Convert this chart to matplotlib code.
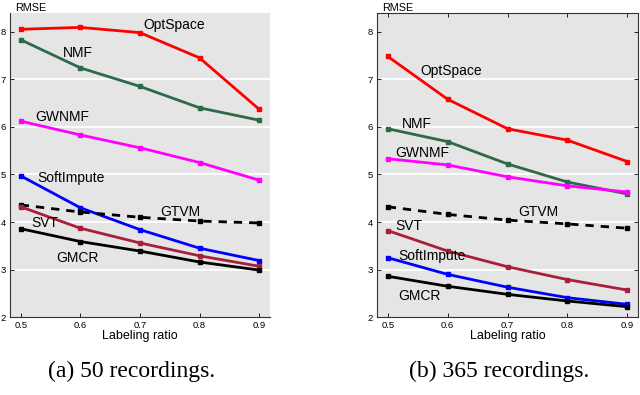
"""
RMSE vs labeling ratio for matrix completion methods, two recording sets.
"""
import matplotlib
matplotlib.use("Agg")
import matplotlib.pyplot as plt

plt.rcParams["font.family"] = ["Liberation Sans", "DejaVu Sans"]

RATIO = [0.5, 0.6, 0.7, 0.8, 0.9]
METHODS = ["OptSpace", "NMF", "GWNMF", "SoftImpute", "GTVM", "SVT", "GMCR"]

# (a) 50 recordings
RMSE_50 = {
    "OptSpace":   [8.05, 8.09, 7.98, 7.45, 6.37],
    "NMF":        [7.83, 7.24, 6.85, 6.40, 6.14],
    "GWNMF":      [6.12, 5.83, 5.56, 5.25, 4.88],
    "SoftImpute": [4.97, 4.30, 3.84, 3.45, 3.19],
    "GTVM":       [4.36, 4.21, 4.10, 4.02, 3.98],
    "SVT":        [4.32, 3.87, 3.56, 3.29, 3.07],
    "GMCR":       [3.86, 3.59, 3.39, 3.16, 2.99],
}
# (b) 365 recordings
RMSE_365 = {
    "OptSpace":   [7.48, 6.58, 5.96, 5.72, 5.27],
    "NMF":        [5.96, 5.69, 5.22, 4.84, 4.59],
    "GWNMF":      [5.33, 5.20, 4.95, 4.76, 4.63],
    "SoftImpute": [3.25, 2.90, 2.63, 2.41, 2.27],
    "GTVM":       [4.32, 4.16, 4.04, 3.96, 3.87],
    "SVT":        [3.82, 3.39, 3.06, 2.79, 2.57],
    "GMCR":       [2.86, 2.65, 2.48, 2.34, 2.22],
}

# text label anchors (x, y in data coords)
LABEL_POS_50 = {
    "OptSpace": (0.705, 8.13), "NMF": (0.571, 7.55), "GWNMF": (0.525, 6.21),
    "SoftImpute": (0.528, 4.93), "GTVM": (0.734, 4.21), "SVT": (0.517, 3.97),
    "GMCR": (0.559, 3.24),
}
LABEL_POS_365 = {
    "OptSpace": (0.555, 7.17), "NMF": (0.524, 6.05), "GWNMF": (0.512, 5.45),
    "SoftImpute": (0.518, 3.28), "GTVM": (0.718, 4.21), "SVT": (0.513, 3.91),
    "GMCR": (0.517, 2.45),
}

COLORS = {
    "OptSpace":   "#ff0000",
    "NMF":        "#2e6a48",
    "GWNMF":      "#ff00ff",
    "SoftImpute": "#0000ff",
    "GTVM":       "#000000",
    "SVT":        "#a81e3c",
    "GMCR":       "#000000",
}


def draw_panel(ax, data, label_pos, full_box):
    ax.set_facecolor("#e5e5e5")
    for y in [3, 4, 5, 6, 7]:
        ax.axhline(y, color="white", lw=1.3, zorder=1)
    for m in METHODS:
        ls = "--" if m == "GTVM" else "-"
        ax.plot(RATIO, data[m], color=COLORS[m], ls=ls, lw=2.0,
                marker="s", markersize=3.5, zorder=3,
                dashes=(3, 2.5) if m == "GTVM" else (None, None))
        x, y = label_pos[m]
        ax.text(x, y, m, fontsize=10, va="center", ha="left", zorder=4)

    ax.set_xlim(0.482, 0.918)
    ax.set_ylim(2, 8.4)
    ax.set_xticks(RATIO)
    ax.set_yticks([2, 3, 4, 5, 6, 7, 8])
    ax.tick_params(labelsize=6.8, direction="in", length=3, width=0.6, pad=3)
    ax.set_xlabel("Labeling ratio", fontsize=9, labelpad=0)
    ax.text(0.02, 1.0, "RMSE", transform=ax.transAxes, fontsize=7.8,
            ha="left", va="bottom")
    for s in ax.spines.values():
        s.set_linewidth(0.8)
        s.set_color("#333333")
    if full_box:
        ax.tick_params(top=True, right=True)
    else:
        ax.spines[["top", "right"]].set_visible(False)


fig = plt.figure(figsize=(6.4, 3.95), dpi=100)
ax1 = fig.add_axes([0.0156, 0.197, 0.406, 0.771])
ax2 = fig.add_axes([0.589, 0.197, 0.408, 0.771])

draw_panel(ax1, RMSE_50, LABEL_POS_50, full_box=False)
draw_panel(ax2, RMSE_365, LABEL_POS_365, full_box=True)

fig.text(0.205, 0.06, "(a) 50 recordings.", fontsize=17,
         family=["Liberation Serif", "DejaVu Serif"], ha="center", va="center")
fig.text(0.78, 0.06, "(b) 365 recordings.", fontsize=17,
         family=["Liberation Serif", "DejaVu Serif"], ha="center", va="center")

fig.savefig("out.png", dpi=100)
